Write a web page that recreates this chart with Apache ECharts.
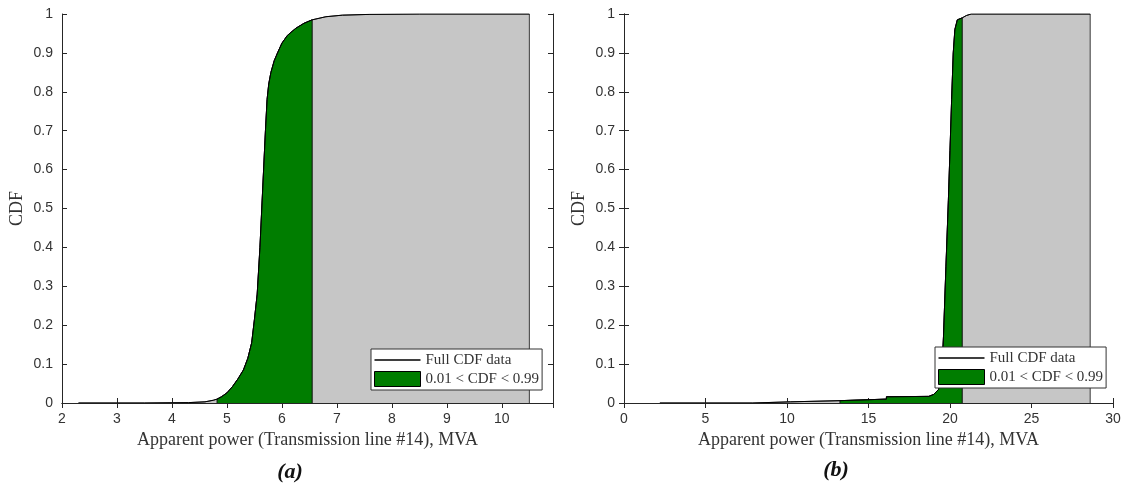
<!DOCTYPE html>
<html>
<head>
<meta charset="utf-8">
<script src="https://cdn.jsdelivr.net/npm/echarts@6/dist/echarts.min.js"></script>
<style>
  html, body { margin: 0; padding: 0; background: #fff; }
  #chart { width: 1124px; height: 485px; }
</style>
</head>
<body>
<div id="chart"></div>
<script>
// ---------------- Data ----------------
// Panel (a): empirical CDF of apparent power, line #14
const cdfA_x = [2.3, 3.5, 4.3, 4.6, 4.75, 4.82, 4.9, 5.0, 5.1, 5.2, 5.3, 5.38, 5.45, 5.5, 5.55, 5.6, 5.65, 5.7, 5.73, 5.76, 5.8, 5.86, 5.92, 6.0, 6.1, 6.25, 6.4, 6.55, 6.8, 7.1, 7.6, 8.5, 10.5];
const cdfA_y = [0, 0, 0.001, 0.003, 0.007, 0.01, 0.016, 0.026, 0.042, 0.062, 0.085, 0.115, 0.155, 0.215, 0.28, 0.4, 0.55, 0.7, 0.78, 0.82, 0.85, 0.88, 0.9, 0.925, 0.945, 0.963, 0.976, 0.985, 0.993, 0.997, 0.999, 1, 1];
const bandA = [4.82, 6.55];      // 0.01 < CDF < 0.99 range
const grayEndA = 10.5;

// Panel (b)
const cdfB_x = [2.2, 7.9, 7.9, 10.2, 10.2, 13.25, 13.25, 16.1, 16.1, 18.7, 19.0, 19.3, 19.5, 19.6, 19.75, 19.9, 20.0, 20.1, 20.2, 20.3, 20.45, 20.75, 21.0, 21.3, 28.6];
const cdfB_y = [0, 0, 0.003, 0.003, 0.006, 0.006, 0.01, 0.01, 0.016, 0.017, 0.022, 0.035, 0.08, 0.17, 0.35, 0.52, 0.65, 0.78, 0.9, 0.96, 0.985, 0.99, 0.996, 1, 1];
const bandB = [13.25, 20.75];
const grayEndB = 28.6;

// Axis ranges / ticks
const xRangeA = [2, 10.93], xStepA = 1;
const xRangeB = [0, 30], xStepB = 5;
const yRange = [0, 1], yStep = 0.1;

const xTitle = 'Apparent power (Transmission line #14), MVA';
const yTitle = 'CDF';
const lineName = 'Full CDF data';
const bandName = '0.01 < CDF < 0.99';
const panelLabels = ['(a)', '(b)'];

// ---------------- Helpers ----------------
function pairs(xs, ys) { return xs.map((x, i) => [x, ys[i]]); }
function bandPoly(xs, ys, band) {
  const pts = pairs(xs, ys).filter(p => p[0] >= band[0] && p[0] <= band[1]);
  return [[band[0], 0]].concat(pts, [[band[1], 0]]);
}
function grayPoly(xs, ys, end) {
  return pairs(xs, ys).concat([[end, 0]]);
}

const GREEN = '#007d00';
const GRAY = '#c6c6c6';
const AXIS = '#262626';
const sans = '"Liberation Sans", Arial, Helvetica, sans-serif';
const serif = '"Liberation Serif", "Times New Roman", serif';
// thin horizontal line icon (tiny invisible sliver fixes the bounding box height)
const LINE_ICON = 'path://M0,0 L0.01,0 L0.01,15 Z M0,6.8 L46,6.8 L46,8.2 L0,8.2 Z';

const grids = [
  { left: 62, top: 14, width: 491, height: 389 },
  { left: 624, top: 14, width: 489, height: 389 }
];

function xAxes(gi, range, step, withName) {
  const common = {
    type: 'value', gridIndex: gi, min: range[0], max: range[1], interval: step,
    splitLine: { show: false },
    axisLine: { show: true, lineStyle: { color: AXIS, width: 1 } },
    axisTick: { show: true, inside: true, length: 5, lineStyle: { color: AXIS } }
  };
  return [
    Object.assign({}, common, {
      position: 'bottom',
      axisLabel: { show: true, color: '#333', fontFamily: sans, fontSize: 14, margin: 9, showMaxLabel: range[1] % step === 0 },
      name: withName, nameLocation: 'middle', nameGap: 25,
      nameTextStyle: { fontFamily: serif, fontSize: 18, color: '#333' }
    }),
    Object.assign({}, common, { position: 'top', axisLabel: { show: false } })
  ];
}
function yAxes(gi) {
  const common = {
    type: 'value', gridIndex: gi, min: yRange[0], max: yRange[1], interval: yStep,
    splitLine: { show: false },
    axisLine: { show: true, lineStyle: { color: AXIS, width: 1 } },
    axisTick: { show: true, inside: true, length: 5, lineStyle: { color: AXIS } }
  };
  return [
    Object.assign({}, common, {
      position: 'left',
      axisLabel: { show: true, color: '#333', fontFamily: sans, fontSize: 14, margin: 9 },
      name: yTitle, nameLocation: 'middle', nameGap: 36,
      nameTextStyle: { fontFamily: serif, fontSize: 18, color: '#333' }
    }),
    Object.assign({}, common, { position: 'right', axisLabel: { show: false } })
  ];
}

function panelSeries(axisIdx, xs, ys, band, grayEnd) {
  return [
    {
      type: 'line', name: 'gray', xAxisIndex: axisIdx, yAxisIndex: axisIdx,
      data: grayPoly(xs, ys, grayEnd), showSymbol: false, symbol: 'none',
      lineStyle: { color: '#3a3a3a', width: 1 },
      areaStyle: { color: GRAY, opacity: 1 },
      itemStyle: { color: GRAY }, z: 1, silent: true
    },
    {
      type: 'line', name: bandName, xAxisIndex: axisIdx, yAxisIndex: axisIdx,
      data: bandPoly(xs, ys, band), showSymbol: false, symbol: 'none',
      lineStyle: { color: '#111', width: 1 },
      areaStyle: { color: GREEN, opacity: 1 },
      itemStyle: { color: GREEN }, z: 2, silent: true
    },
    {
      type: 'line', name: lineName, xAxisIndex: axisIdx, yAxisIndex: axisIdx,
      data: pairs(xs, ys), showSymbol: false, symbol: 'none',
      lineStyle: { color: '#000', width: 1 },
      itemStyle: { color: '#000' }, z: 3, silent: true
    }
  ];
}

function legend(left, top) {
  return {
    left: left, top: top, orient: 'vertical',
    backgroundColor: '#fff', borderColor: '#333', borderWidth: 1, borderRadius: 0,
    padding: [3, 3, 3, 3], itemGap: 3, itemWidth: 46, itemHeight: 15,
    selectedMode: false,
    textStyle: { fontFamily: serif, fontSize: 15, color: '#333', lineHeight: 16 },
    data: [
      { name: lineName, icon: LINE_ICON, itemStyle: { color: '#000', borderWidth: 0 } },
      { name: bandName, icon: 'rect', itemStyle: { color: GREEN, borderColor: '#000', borderWidth: 1 } }
    ]
  };
}

const option = {
  animation: false,
  backgroundColor: '#fff',
  grid: grids,
  xAxis: xAxes(0, xRangeA, xStepA, xTitle).concat(xAxes(1, xRangeB, xStepB, xTitle)),
  yAxis: yAxes(0).concat(yAxes(1)),
  legend: [legend(371, 349), legend(935, 347)],
  series: panelSeries(0, cdfA_x, cdfA_y, bandA, grayEndA)
    .concat(panelSeries(2, cdfB_x, cdfB_y, bandB, grayEndB)),
  graphic: [
    { type: 'text', x: 290, y: 472, style: { text: panelLabels[0], align: 'center', verticalAlign: 'middle', font: 'italic bold 22px "Liberation Serif", serif', fill: '#111' } },
    { type: 'text', x: 836, y: 470, style: { text: panelLabels[1], align: 'center', verticalAlign: 'middle', font: 'italic bold 22px "Liberation Serif", serif', fill: '#111' } }
  ]
};

const chart = echarts.init(document.getElementById('chart'), null, { renderer: 'canvas' });
chart.setOption(option);
</script>
</body>
</html>
